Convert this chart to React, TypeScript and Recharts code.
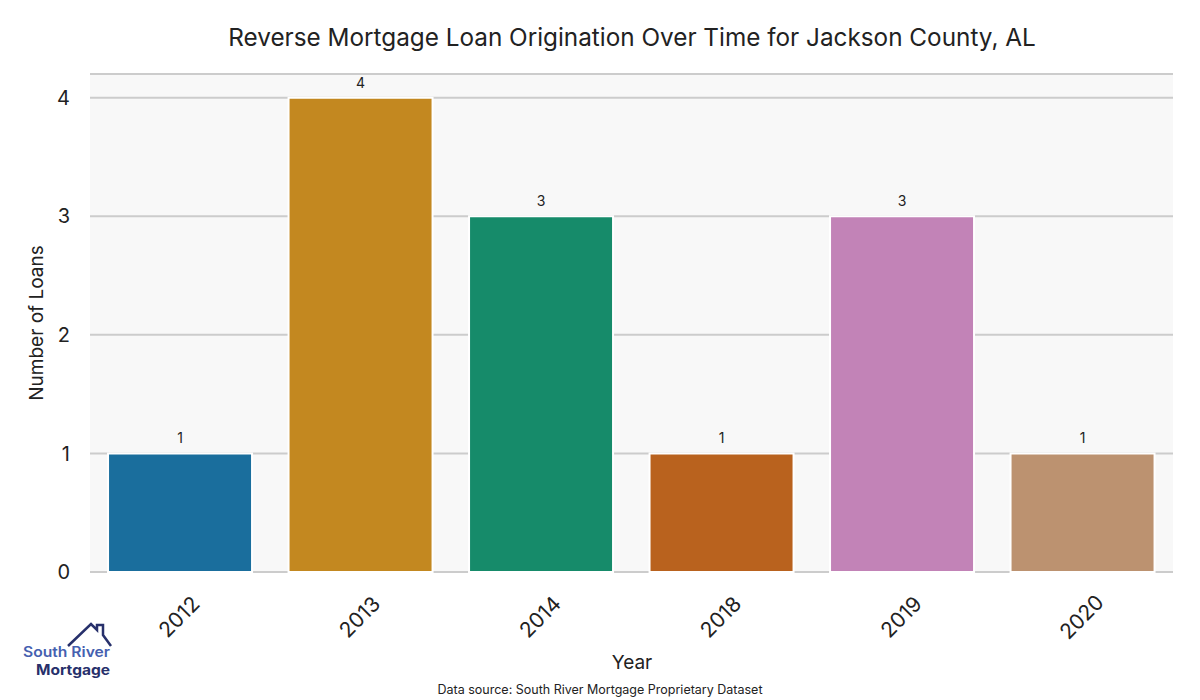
import { Bar, BarChart, CartesianGrid, Cell, LabelList, XAxis, YAxis } from "recharts"

const years = ["2012", "2013", "2014", "2018", "2019", "2020"]
const loans = [1, 4, 3, 1, 3, 1]
const colors = ["#1a6e9d", "#c38820", "#168b6a", "#b9621e", "#c283b7", "#bc9270"]
const yTicks = [0, 1, 2, 3, 4]

const data = years.map((year, i) => ({ year, loans: loans[i] }))

const font = "Inter, 'Open Sans', sans-serif"

function YearTick(props: any) {
  const { x, y, payload } = props
  const cy = y + 38
  return (
    <text
      x={x}
      y={cy}
      transform={`rotate(-45, ${x}, ${cy})`}
      textAnchor="middle"
      dominantBaseline="middle"
      fontSize={21}
      fill="#222"
      fontFamily={font}
    >
      {payload.value}
    </text>
  )
}

function Logo() {
  return (
    <svg width={110} height={62} style={{ position: "absolute", left: 18, top: 620 }}>
      <polyline
        points="50,26 73,4 79,10 79,5 85,5 85,15 93,26"
        fill="none"
        stroke="#27306b"
        strokeWidth={2.5}
      />
      <text x={5} y={37} fontSize={14} textLength={87} lengthAdjust="spacingAndGlyphs" fontWeight={600} fill="#4560b0" fontFamily={font}>
        South River
      </text>
      <text x={18} y={55} fontSize={14} textLength={74} lengthAdjust="spacingAndGlyphs" fontWeight={700} fill="#27306b" fontFamily={font}>
        Mortgage
      </text>
    </svg>
  )
}

export default function App() {
  return (
    <div
      style={{
        position: "absolute",
        left: 0,
        top: 0,
        width: 1200,
        height: 700,
        background: "#fff",
        fontFamily: font,
      }}
    >
      <div
        style={{
          position: "absolute",
          top: 22,
          left: 0,
          width: 1264,
          textAlign: "center",
          fontSize: 24.3,
          color: "#222",
        }}
      >
        Reverse Mortgage Loan Origination Over Time for Jackson County, AL
      </div>
      <BarChart
        width={1200}
        height={700}
        data={data}
        margin={{ top: 74, right: 27, left: 40, bottom: 58 }}
        barCategoryGap="10%"
      >
        <CartesianGrid vertical={false} fill="#f8f8f8" stroke="#cccccc" strokeWidth={2} />
        <XAxis
          dataKey="year"
          tick={<YearTick />}
          tickLine={false}
          axisLine={false}
          height={70}
          interval={0}
        />
        <YAxis
          domain={[0, 4.2]}
          ticks={yTicks}
          width={50}
          tickLine={false}
          axisLine={false}
          tick={{ fontSize: 20, fill: "#222", fontFamily: font }}
          tickMargin={14}
        />
        <Bar dataKey="loans" stroke="#ffffff" strokeWidth={2} isAnimationActive={false}>
          {data.map((d, i) => (
            <Cell key={d.year} fill={colors[i]} />
          ))}
          <LabelList
            dataKey="loans"
            position="top"
            offset={10}
            fontSize={14}
            fill="#222"
            fontFamily={font}
          />
        </Bar>
      </BarChart>
      <div
        style={{
          position: "absolute",
          left: 36,
          top: 323,
          transform: "translate(-50%, -50%) rotate(-90deg)",
          fontSize: 19,
          color: "#222",
          whiteSpace: "nowrap",
        }}
      >
        Number of Loans
      </div>
      <div
        style={{
          position: "absolute",
          left: 632,
          top: 662,
          transform: "translate(-50%, -50%)",
          fontSize: 19,
          color: "#222",
        }}
      >
        Year
      </div>
      <div
        style={{
          position: "absolute",
          left: 600,
          top: 689,
          transform: "translate(-50%, -50%)",
          fontSize: 12.5,
          color: "#222",
          whiteSpace: "nowrap",
        }}
      >
        Data source: South River Mortgage Proprietary Dataset
      </div>
      <Logo />
    </div>
  )
}
